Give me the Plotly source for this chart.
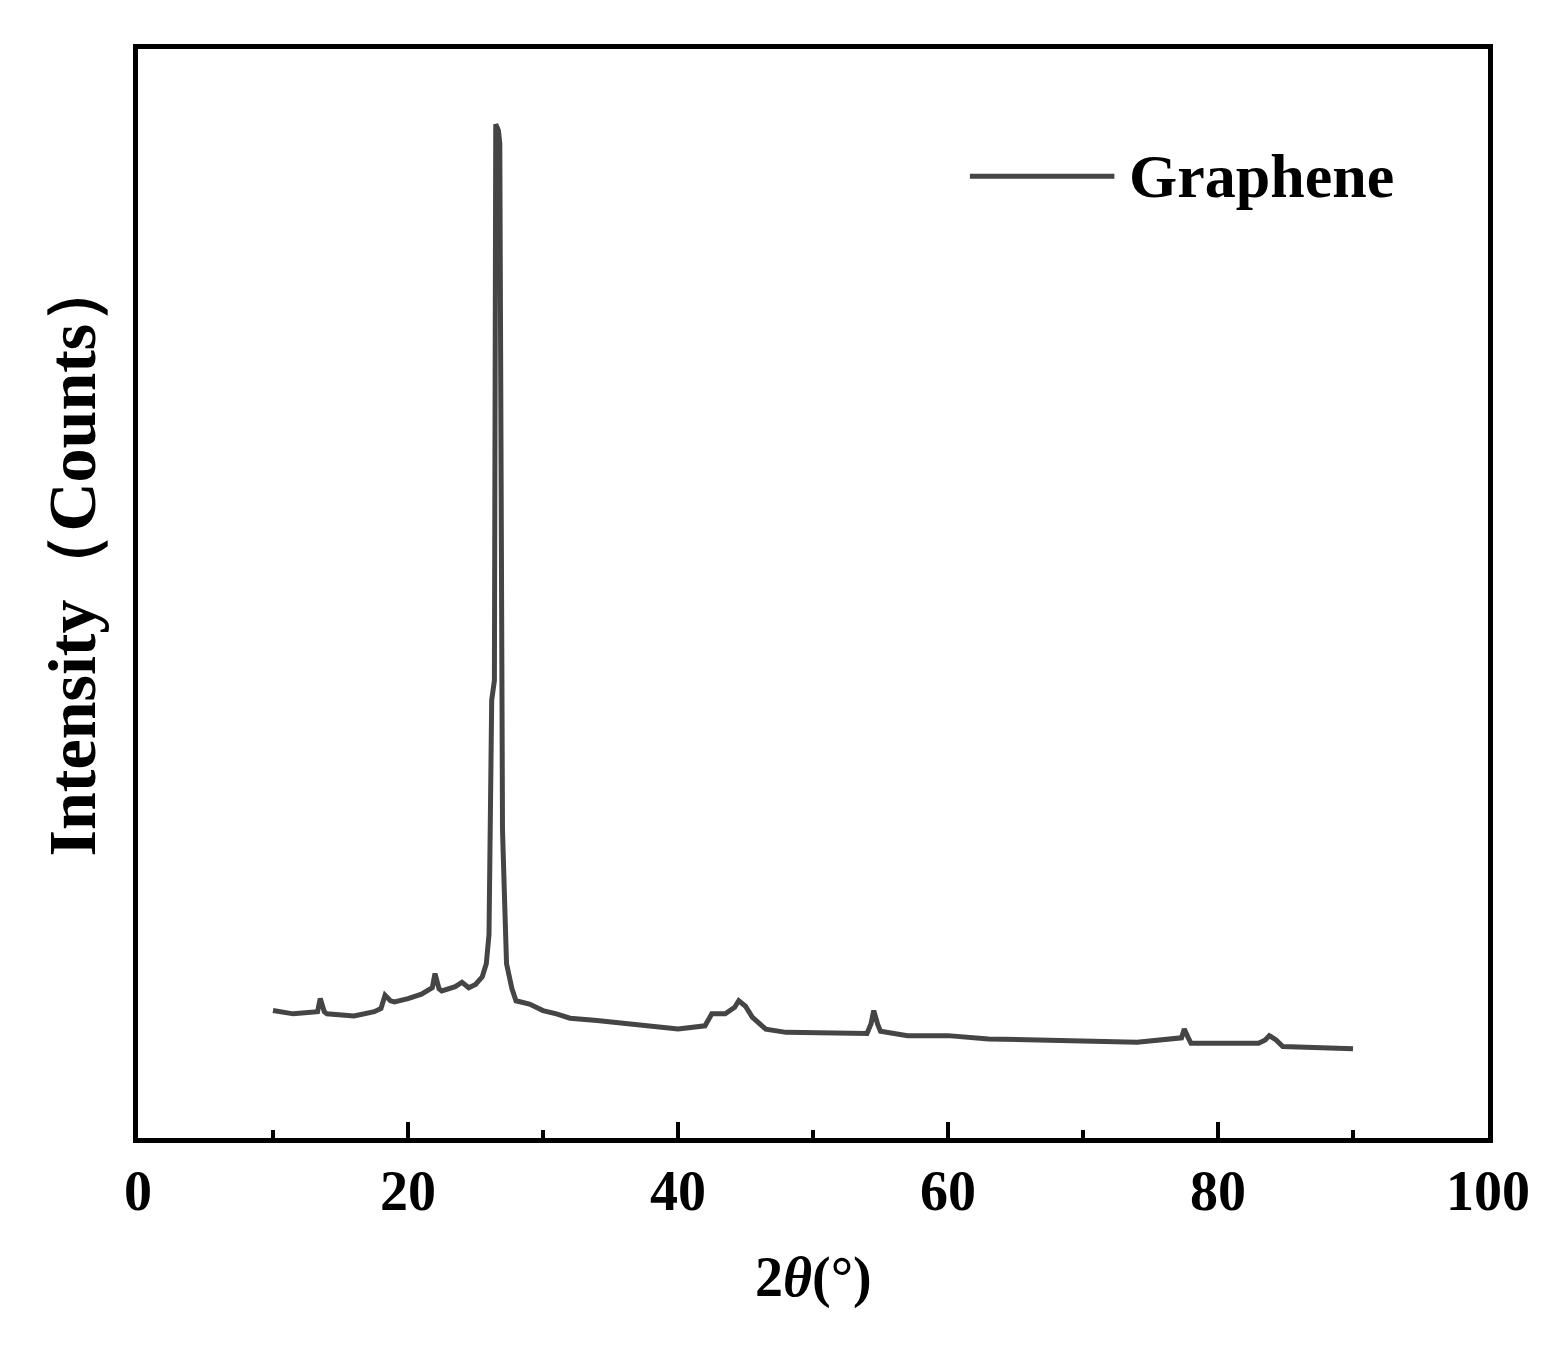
import plotly.graph_objects as go

# XRD pattern of graphene (arbitrary counts)
two_theta = [10, 11.5, 13.3, 13.5, 13.8, 14, 16, 17.5, 18, 18.3, 18.7, 19, 20, 21, 21.8, 22, 22.3,
             22.5, 23.5, 24, 24.5, 25, 25.5, 25.8, 26, 26.1, 26.2, 26.4, 26.5, 26.7, 26.8, 26.9,
             27, 27.2, 27.3, 27.7, 28, 29, 30, 31, 32, 34, 36, 38, 40, 42, 42.5, 43.5, 44.2, 44.5,
             45, 45.5, 46.5, 48, 52, 54, 54.3, 54.5, 54.8, 55, 57, 60, 63, 70, 74, 77.3, 77.5, 77.8,
             78, 83, 83.5, 83.8, 84.3, 84.8, 90]
intensity = [117, 114, 116, 128, 116, 114, 112, 116, 119, 131, 126, 125, 128, 132, 138, 151, 137,
             135, 139, 143, 138, 141, 148, 160, 187, 300, 402, 420, 931, 925, 913, 600,
             283, 200, 160, 137, 126, 123, 117, 114, 110, 108, 105, 102, 100, 103, 114, 114, 120, 126,
             121, 111, 100, 97, 96, 96, 105, 117, 104, 98, 94, 94, 91, 89, 88, 92, 100, 92,
             87, 87, 90, 94, 90, 84, 82]

legend_label = "Graphene"
x_tick_values = [0, 20, 40, 60, 80, 100]
x_tick_text = ["0", "20", "40", "60", "80", "100"]

FONT = "Liberation Serif"
LINE_COLOR = "#454545"

fig = go.Figure()
fig.add_trace(go.Scatter(
    x=two_theta, y=intensity, mode="lines",
    line=dict(color=LINE_COLOR, width=5),
    name=legend_label, showlegend=False,
))

fig.update_layout(
    width=1560, height=1346,
    paper_bgcolor="white", plot_bgcolor="white",
    margin=dict(l=130, r=80, t=41, b=216),
    font=dict(family=FONT, color="black"),
)

fig.update_xaxes(
    range=[0, 100],
    tickmode="array", tickvals=x_tick_values, ticktext=x_tick_text,
    ticks="inside", ticklen=16, tickwidth=4, tickcolor="black",
    minor=dict(dtick=10, tick0=0, ticks="inside", ticklen=8, tickwidth=4, tickcolor="black"),
    tickfont=dict(family=FONT, size=56, color="black", weight="bold"),
    showline=True, linewidth=5, linecolor="black", mirror=True,
    showgrid=False, zeroline=False,
)
fig.update_yaxes(
    range=[0, 1000],
    showticklabels=False, ticks="",
    showline=True, linewidth=5, linecolor="black", mirror=True,
    showgrid=False, zeroline=False,
)

# x-axis title
fig.add_annotation(
    text="2<i>θ</i>(°)", xref="paper", yref="paper",
    x=0.5, y=-140 / 1095, xanchor="center", yanchor="middle",
    showarrow=False, font=dict(family=FONT, size=56, color="black", weight="bold"),
)
# y-axis title
fig.add_annotation(
    text="Intensity（Counts）", xref="paper", yref="paper",
    x=-66 / 1355, y=(1140 - 555) / 1095, xanchor="center", yanchor="middle",
    textangle=-90, showarrow=False,
    font=dict(family=FONT, size=68, color="black", weight="bold"),
)

# legend (line sample + label)
fig.add_shape(
    type="line", xref="paper", yref="paper",
    x0=(970 - 135) / 1355, x1=(1115 - 135) / 1355,
    y0=(1140 - 173) / 1095, y1=(1140 - 173) / 1095,
    line=dict(color=LINE_COLOR, width=5),
)
fig.add_annotation(
    text=legend_label, xref="paper", yref="paper",
    x=(1128 - 135) / 1355, y=(1140 - 173) / 1095, xanchor="left", yanchor="middle",
    showarrow=False, font=dict(family=FONT, size=62, color="black", weight="bold"),
)

fig.write_html("out.html")
